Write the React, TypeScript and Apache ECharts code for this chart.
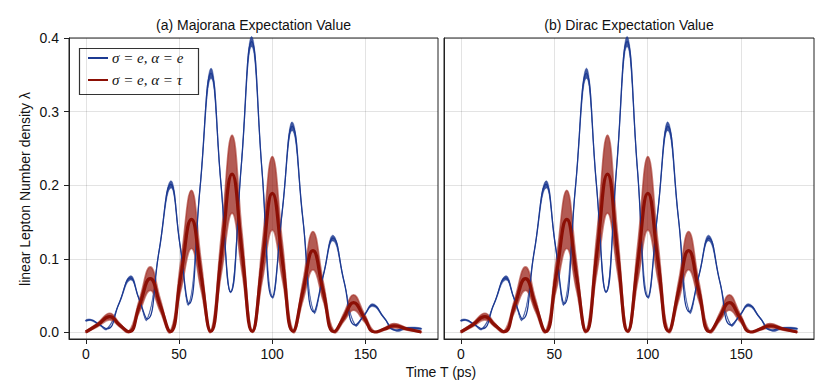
import React, { useEffect, useRef } from "react";
import * as echarts from "echarts";

// ---- data (both panels look identical) ----
// sigma = e, alpha = e  (blue)
const blueT = [0, 2.5, 7, 11.5, 17.8, 24, 28.5, 33, 39.3, 45.6, 50.5, 55.4, 61.3, 67.2, 72.5, 77.8, 83.4, 89, 94.5, 100, 105.4, 110.8, 116.5, 122.3, 127.5, 132.7, 138.6, 144.5, 149.3, 154, 160, 166, 173, 180];
const blueY = [0.016, 0.017, 0.011, 0.005, 0.039, 0.074, 0.046, 0.018, 0.11, 0.201, 0.12, 0.039, 0.196, 0.352, 0.203, 0.055, 0.225, 0.395, 0.222, 0.048, 0.164, 0.28, 0.154, 0.028, 0.078, 0.128, 0.069, 0.01, 0.023, 0.037, 0.02, 0.003, 0.006, 0.005];
const blueSpread = [0.001, 0.001, 0.001, 0.001, 0.001, 0.003, 0.001, 0.001, 0.001, 0.005, 0.001, 0.001, 0.001, 0.007, 0.001, 0.001, 0.001, 0.007, 0.001, 0.001, 0.001, 0.006, 0.001, 0.001, 0.001, 0.004, 0.001, 0.001, 0.001, 0.002, 0.001, 0.001, 0.001, 0.001];

// sigma = e, alpha = tau  (red band: lower / upper envelope)
const redT = [0, 6.5, 12.9, 18, 23.2, 28.8, 34.6, 40, 45.4, 51, 56.7, 61.9, 67.1, 72.8, 78.5, 83.9, 89.3, 94.7, 100.1, 105.6, 111.2, 116.5, 121.9, 127.4, 133.2, 138.5, 143.7, 149.3, 155, 160.2, 165.4, 172.5, 180];
const redLo = [0, 0.008, 0.017, 0.008, 0, 0.028, 0.057, 0.028, 0, 0.057, 0.114, 0.057, 0, 0.081, 0.162, 0.081, 0, 0.07, 0.139, 0.07, 0, 0.043, 0.085, 0.043, 0, 0.015, 0.03, 0.015, 0, 0.003, 0.006, 0.003, 0];
const redHi = [0.001, 0.013, 0.026, 0.013, 0.002, 0.045, 0.089, 0.045, 0.002, 0.097, 0.193, 0.097, 0.003, 0.134, 0.268, 0.134, 0.003, 0.12, 0.239, 0.12, 0.003, 0.069, 0.137, 0.069, 0.002, 0.026, 0.051, 0.026, 0.001, 0.006, 0.012, 0.006, 0.001];

const xTicks = [0, 50, 100, 150];
const yTicks = [0, 0.1, 0.2, 0.3, 0.4];
const panelTitles = ["(a) Majorana Expectation Value", "(b) Dirac Expectation Value"];
const legendLabels = ["σ = e, α = e", "σ = e, α = τ"];

const BLUE = "#1c3a92";
const RED = "#8c0f05";
const FONT = '"Liberation Sans", Arial, sans-serif';

function bandSeries(i: number, ts: number[], lo: number[], hi: number[], fill: string, stroke: string, lw: number) {
  return {
    type: "custom",
    xAxisIndex: i,
    yAxisIndex: i,
    silent: true,
    data: [[ts[0], lo[0]]],
    renderItem: (_params: any, api: any) => {
      const upper = ts.map((t, k) => api.coord([t, hi[k]]));
      const lower = ts.map((t, k) => api.coord([t, lo[k]])).reverse();
      return {
        type: "polygon",
        shape: { points: upper.concat(lower), smooth: 0.45 },
        style: { fill, stroke, lineWidth: lw },
      };
    },
  };
}

export default function App() {
  const ref = useRef<HTMLDivElement>(null);
  useEffect(() => {
    if (!ref.current) return;
    const chart = echarts.init(ref.current, undefined, { renderer: "svg" });

    const grids = [
      { left: 69, top: 38, width: 369, height: 301 },
      { left: 444, top: 38, width: 370, height: 301 },
    ];

    const series: any[] = [];
    grids.forEach((_, i) => {
      const bLo = blueY.map((v, k) => v - blueSpread[k]);
      const bHi = blueY.map((v, k) => v + blueSpread[k]);
      const bLine = blueT.map((t, k) => [t, blueY[k]]);
      const rMid = redT.map((t, k) => [t, (redLo[k] + redHi[k]) / 2]);
      const common = { type: "line", xAxisIndex: i, yAxisIndex: i, showSymbol: false, smooth: 0.5, silent: true };
      series.push(
        bandSeries(i, blueT, bLo, bHi, "rgba(28,58,146,0.85)", "rgba(28,58,146,0.5)", 0.8),
        { ...common, data: bLine, lineStyle: { color: BLUE, width: 1.3 } },
        bandSeries(i, redT, redLo, redHi, "rgba(150,28,18,0.72)", "rgba(165,50,40,0.6)", 1.6),
        { ...common, data: rMid, lineStyle: { color: RED, width: 3.2 } }
      );
    });

    const axisColor = "#222";
    const option: any = {
      animation: false,
      backgroundColor: "#fff",
      grid: grids.map((g) => ({ ...g, show: true, borderColor: axisColor, borderWidth: 1, backgroundColor: "transparent" })),
      xAxis: grids.map((_, i) => ({
        type: "value",
        gridIndex: i,
        min: -9,
        max: 189,
        splitNumber: 4,
        axisLine: { show: true, onZero: false, lineStyle: { color: axisColor, width: 1 } },
        axisTick: { show: true, customValues: xTicks, length: 5, lineStyle: { color: axisColor } },
        axisLabel: { customValues: xTicks, fontFamily: FONT, fontSize: 14, color: "#111", margin: 8, formatter: (v: number) => String(v) },
        splitLine: { show: true, lineStyle: { color: "rgba(0,0,0,0.11)", width: 1 } },
      })),
      yAxis: grids.map((_, i) => ({
        type: "value",
        gridIndex: i,
        min: -0.009,
        max: 0.4,
        splitNumber: 5,
        axisLine: { show: true, onZero: false, lineStyle: { color: axisColor, width: 1 } },
        axisTick: { show: i === 0, customValues: yTicks, length: 5, lineStyle: { color: axisColor } },
        axisLabel: { show: i === 0, customValues: yTicks, fontFamily: FONT, fontSize: 14, color: "#111", margin: 10, formatter: (v: number) => v.toFixed(1) },
        splitLine: { show: true, lineStyle: { color: "rgba(0,0,0,0.11)", width: 1 } },
      })),
      series,
      graphic: [
        ...panelTitles.map((t, i) => ({
          type: "text",
          x: grids[i].left + grids[i].width / 2,
          y: 25,
          silent: true,
          style: { text: t, fontFamily: FONT, fontSize: 14, fill: "#111", align: "center", verticalAlign: "middle" },
        })),
        {
          type: "text",
          x: 25,
          y: 189,
          rotation: Math.PI / 2,
          silent: true,
          style: { text: "linear Lepton Number density λ", fontFamily: FONT, fontSize: 14, fill: "#111", align: "center", verticalAlign: "middle" },
        },
        {
          type: "text",
          x: 441,
          y: 372,
          silent: true,
          style: { text: "Time T (ps)", fontFamily: FONT, fontSize: 14, fill: "#111", align: "center", verticalAlign: "middle" },
        },
        {
          type: "group",
          silent: true,
          z: 100,
          children: [
            { type: "rect", shape: { x: 79.5, y: 48.5, width: 119, height: 46 }, style: { fill: "#fff", stroke: "#333", lineWidth: 1.2 } },
            ...legendLabels.flatMap((lab, k) => [
              { type: "line", shape: { x1: 88, y1: 58 + 22 * k, x2: 108, y2: 58 + 22 * k }, style: { stroke: k === 0 ? BLUE : RED, lineWidth: 2 } },
              { type: "text", x: 112, y: 58 + 22 * k, style: { text: lab, fontFamily: '"Liberation Serif", "DejaVu Serif", serif', fontStyle: "italic", fontSize: 15, fill: "#111", align: "left", verticalAlign: "middle" } },
            ]),
          ],
        },
      ],
    };
    chart.setOption(option);
    return () => chart.dispose();
  }, []);
  return <div ref={ref} style={{ position: "fixed", left: 0, top: 0, width: 830, height: 381 }} />;
}
